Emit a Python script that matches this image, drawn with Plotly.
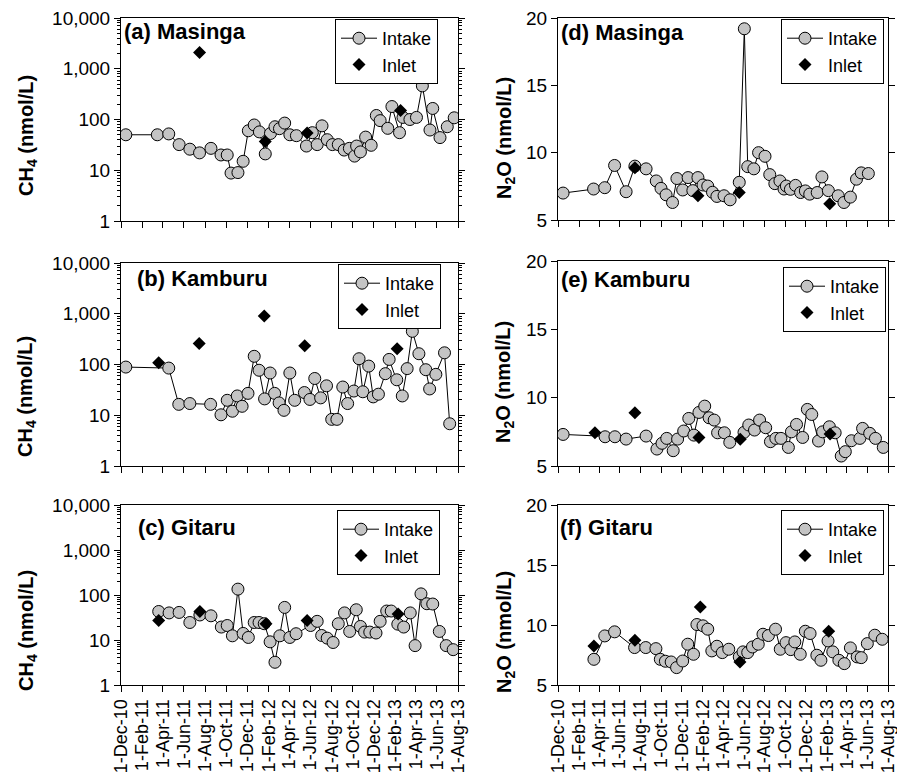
import plotly.graph_objects as go

# The page body keeps the browser's default 8 px margin, so the figure is
# made 8 px smaller and every pixel position below is given in window pixels.
OFF = 8
WIN_W, WIN_H = 905, 777
W, H = WIN_W - OFF, WIN_H - OFF
FONT = "Arial, 'Liberation Sans', sans-serif"

# ---------------- data ----------------
# (a) Masinga CH4
A_int_d = ["2010-12-15","2011-03-16","2011-04-18","2011-05-18","2011-06-18","2011-07-16","2011-08-18","2011-09-16","2011-10-04","2011-10-15","2011-11-04","2011-11-19","2011-12-04","2011-12-21","2012-01-05","2012-01-22","2012-02-06","2012-02-19","2012-03-03","2012-03-18","2012-04-02","2012-04-21","2012-05-20","2012-06-06","2012-06-20","2012-07-04","2012-07-19","2012-08-03","2012-08-20","2012-09-06","2012-09-21","2012-10-06","2012-10-12","2012-10-23","2012-11-07","2012-11-23","2012-12-08","2012-12-19","2013-01-10","2013-01-22","2013-02-13","2013-02-23","2013-03-15","2013-04-03","2013-04-20","2013-05-12","2013-05-20","2013-06-10","2013-07-01","2013-07-21"]
A_int_v = [50,50,52,32,26,22,27,20,20,8.8,9,15,60,78,57,21,53,72,66,85,50,48,30,55,32,75,40,32,32,25,27,19,30,23,45,31,120,95,67,180,55,110,100,110,460,62,165,44,72,108]
A_inl_d = ["2011-07-16","2012-01-22","2012-05-22","2013-02-16"]
A_inl_v = [2100,37,54,150]

# (b) Kamburu CH4
B_int_d = ["2010-12-15","2011-04-18","2011-05-17","2011-06-18","2011-08-17","2011-09-16","2011-10-04","2011-10-19","2011-11-02","2011-11-16","2011-12-03","2011-12-21","2012-01-04","2012-01-20","2012-02-05","2012-02-18","2012-03-02","2012-03-16","2012-04-02","2012-04-16","2012-05-14","2012-05-30","2012-06-13","2012-06-30","2012-07-17","2012-08-01","2012-08-16","2012-09-02","2012-09-16","2012-10-04","2012-10-19","2012-10-30","2012-11-16","2012-11-29","2012-12-14","2013-01-03","2013-01-14","2013-02-05","2013-02-21","2013-03-07","2013-03-22","2013-04-10","2013-04-30","2013-05-11","2013-05-29","2013-06-23","2013-07-08"]
B_int_v = [89,85,16.4,17,16.4,10.2,19.7,12,24,15,27,145,77,21,68,27,17.5,12.5,68,19.7,28,20.5,53,22,38,8.3,8.3,36,17,30,130,29,93,23,26,66,126,50,24,83,450,163,79,33,64,170,6.8]
B_inl_d = ["2011-03-20","2011-07-15","2012-01-19","2012-05-15","2013-02-06"]
B_inl_v = [108,258,905,235,205]

# (c) Gitaru CH4
C_int_d = ["2011-03-20","2011-04-19","2011-05-18","2011-06-18","2011-07-17","2011-08-18","2011-09-17","2011-10-04","2011-10-19","2011-11-04","2011-11-19","2011-12-04","2011-12-21","2012-01-04","2012-01-19","2012-02-05","2012-02-19","2012-03-04","2012-03-18","2012-04-02","2012-04-20","2012-06-01","2012-06-20","2012-07-03","2012-07-19","2012-08-05","2012-08-20","2012-09-07","2012-09-22","2012-10-11","2012-10-23","2012-11-04","2012-11-19","2012-12-07","2012-12-19","2013-01-07","2013-01-20","2013-02-08","2013-02-25","2013-03-16","2013-03-30","2013-04-16","2013-05-03","2013-05-20","2013-06-08","2013-06-28","2013-07-18"]
C_int_v = [43,40,41,24.5,36,34.5,19.4,21,12.4,135,14,11.4,24.5,24.5,23,9.1,3.2,12.4,53,11.4,13.8,21,26,12.6,11,8.8,23,40,15.5,47,20,15,15,14.3,26,44,44,22.5,19.4,40,7.5,106,64,63,15.5,7.5,6.1]
C_inl_d = ["2011-03-20","2011-07-17","2012-01-24","2012-05-22","2013-02-09"]
C_inl_v = [27,43,23,27,38]

# (d) Masinga N2O
D_int_d = ["2010-12-16","2011-03-16","2011-04-18","2011-05-17","2011-06-20","2011-07-16","2011-08-18","2011-09-17","2011-10-01","2011-10-16","2011-11-04","2011-11-17","2011-12-04","2011-12-20","2012-01-03","2012-01-18","2012-02-02","2012-02-16","2012-03-01","2012-03-14","2012-04-04","2012-04-22","2012-05-19","2012-06-03","2012-06-13","2012-07-01","2012-07-15","2012-08-03","2012-08-17","2012-09-01","2012-09-16","2012-09-28","2012-10-05","2012-10-17","2012-11-01","2012-11-16","2012-11-30","2012-12-13","2013-01-04","2013-01-18","2013-02-06","2013-03-07","2013-03-24","2013-04-12","2013-04-30","2013-05-14","2013-06-04"]
D_int_v = [7.0,7.3,7.4,9.05,7.1,9.0,8.8,7.9,7.35,6.87,6.3,8.08,7.23,8.15,7.18,8.15,7.6,7.52,7.06,6.75,6.8,6.5,7.8,19.2,8.96,8.8,10.0,9.73,8.37,7.7,7.9,7.3,7.52,7.28,7.57,7.04,7.16,6.92,7.04,8.2,7.18,6.8,6.3,6.7,8.03,8.5,8.45]
D_inl_d = ["2011-07-16","2012-01-18","2012-05-19","2013-02-10"]
D_inl_v = [8.88,6.8,7.04,6.2]

# (e) Kamburu N2O
E_int_d = ["2010-12-16","2011-04-19","2011-05-18","2011-06-20","2011-08-18","2011-09-19","2011-10-04","2011-10-18","2011-11-06","2011-11-19","2011-12-07","2011-12-22","2012-01-06","2012-01-21","2012-02-07","2012-02-20","2012-03-06","2012-03-16","2012-04-05","2012-04-21","2012-06-02","2012-06-16","2012-07-03","2012-07-18","2012-08-05","2012-08-19","2012-09-04","2012-09-19","2012-10-11","2012-10-20","2012-11-04","2012-11-22","2012-12-06","2012-12-19","2013-01-08","2013-01-20","2013-02-09","2013-02-26","2013-03-16","2013-03-28","2013-04-15","2013-05-10","2013-05-18","2013-06-08","2013-06-25","2013-07-18"]
E_int_v = [7.31,7.14,7.14,6.97,7.19,6.24,6.66,7.02,6.12,6.97,7.56,8.48,7.26,8.92,9.38,8.53,8.36,7.43,7.43,6.73,7.46,8.0,7.63,8.36,7.8,6.78,7.02,7.02,6.36,7.5,8.04,7.09,9.14,8.77,6.83,7.5,7.87,7.43,5.73,6.05,6.85,7.02,7.75,7.39,7.02,6.36]
E_inl_d = ["2011-03-20","2011-07-16","2012-01-21","2012-05-22","2013-02-11"]
E_inl_v = [7.43,8.9,7.09,6.95,7.34]

# (f) Gitaru N2O
F_int_d = ["2011-03-17","2011-04-18","2011-05-17","2011-07-15","2011-08-17","2011-09-16","2011-09-29","2011-10-14","2011-10-31","2011-11-16","2011-12-04","2011-12-19","2012-01-05","2012-01-15","2012-02-02","2012-02-16","2012-02-28","2012-03-14","2012-03-30","2012-04-18","2012-05-19","2012-05-30","2012-06-13","2012-06-27","2012-07-14","2012-07-28","2012-08-13","2012-09-03","2012-09-17","2012-10-04","2012-10-18","2012-10-30","2012-11-15","2012-11-30","2012-12-14","2013-01-03","2013-01-15","2013-02-05","2013-02-19","2013-03-09","2013-03-25","2013-04-12","2013-05-02","2013-05-14","2013-06-01","2013-06-23","2013-07-15"]
F_int_v = [7.14,9.09,9.43,8.12,8.12,8.03,7.14,6.98,6.92,6.45,7.0,8.4,7.56,10.04,9.93,9.65,7.84,8.23,7.7,7.98,7.34,7.76,7.7,8.17,8.4,9.23,9.12,9.65,7.98,8.53,7.95,8.59,7.56,9.48,9.29,7.48,7.06,8.67,7.76,7.06,6.78,8.09,7.34,7.28,8.45,9.15,8.81]
F_inl_d = ["2011-03-17","2011-07-16","2012-01-25","2012-05-21","2013-02-07"]
F_inl_v = [8.26,8.73,11.51,6.92,9.48]

LOG_TICKS = [1, 10, 100, 1000, 10000]
LOG_TEXT = ["1", "10", "100", "1,000", "10,000"]
N2O_TICKS = [5, 10, 15, 20]
X_RANGE = ["2010-12-01", "2013-08-01"]

# ---------------- layout geometry (window pixels) ----------------
panels = [
    dict(t="(a) Masinga", i=(A_int_d, A_int_v), n=(A_inl_d, A_inl_v), xp=(121, 458), yp=(18, 221),
         leg=(438, 19), tp=(122, 31), yl=(27, 136), kind="ch4", bottom=False),
    dict(t="(b) Kamburu", i=(B_int_d, B_int_v), n=(B_inl_d, B_inl_v), xp=(121, 458), yp=(263, 466),
         leg=(441, 264), tp=(135, 278), yl=(27, 397), kind="ch4", bottom=False),
    dict(t="(c) Gitaru", i=(C_int_d, C_int_v), n=(C_inl_d, C_inl_v), xp=(121, 458), yp=(505, 685),
         leg=(440, 510), tp=(136, 527), yl=(27, 631), kind="ch4", bottom=True),
    dict(t="(d) Masinga", i=(D_int_d, D_int_v), n=(D_inl_d, D_inl_v), xp=(558, 888), yp=(18, 220),
         leg=(884, 19), tp=(559, 32), yl=(505, 138), kind="n2o", bottom=False),
    dict(t="(e) Kamburu", i=(E_int_d, E_int_v), n=(E_inl_d, E_inl_v), xp=(558, 888), yp=(261, 466),
         leg=(886, 267), tp=(559, 279), yl=(505, 382), kind="n2o", bottom=False),
    dict(t="(f) Gitaru", i=(F_int_d, F_int_v), n=(F_inl_d, F_inl_v), xp=(558, 888), yp=(505, 685),
         leg=(884, 510), tp=(558, 527), yl=(505, 632), kind="n2o", bottom=True),
]

def fx(px):
    return (px - OFF) / W

def fy(py):
    return 1 - (py - OFF) / H

fig = go.Figure()
layout = dict(
    template="none",
    width=W, height=H, margin=dict(l=0, r=0, t=0, b=0, autoexpand=False),
    paper_bgcolor="white", plot_bgcolor="white",
    font=dict(family=FONT, color="black"),
    annotations=[], hovermode=False,
)

minor_log = [m * 10 ** e for e in range(0, 4) for m in range(2, 10)]

for k, p in enumerate(panels, start=1):
    sfx = "" if k == 1 else str(k)
    xa, ya = "x" + sfx, "y" + sfx
    leg = "legend" + sfx
    fig.add_trace(go.Scatter(
        x=p["i"][0], y=p["i"][1], mode="lines+markers", name="Intake",
        xaxis=xa, yaxis=ya, legend=leg,
        line=dict(color="black", width=1),
        marker=dict(symbol="circle", size=12, color="#c4c4c4", line=dict(color="black", width=1)),
    ))
    fig.add_trace(go.Scatter(
        x=p["n"][0], y=p["n"][1], mode="markers", name="Inlet",
        xaxis=xa, yaxis=ya, legend=leg,
        marker=dict(symbol="diamond", size=10, color="black", line=dict(color="black", width=0)),
    ))
    layout["xaxis" + sfx] = dict(
        domain=[fx(p["xp"][0]), fx(p["xp"][1])], anchor=ya, type="date", automargin=False,
        range=X_RANGE, tick0="2010-12-01", dtick="M2", tickformat="%-d-%b-%y",
        ticks="outside", ticklen=6, tickcolor="black", showline=True, linecolor="black",
        linewidth=1, mirror=True, showgrid=False, zeroline=False,
        showticklabels=p["bottom"], tickangle=-90, ticklabeloverflow="allow",
        tickfont=dict(family=FONT, size=18, color="black"),
    )
    ycfg = dict(
        domain=[fy(p["yp"][1]), fy(p["yp"][0])], anchor=xa, automargin=False,
        ticks="outside", ticklen=6, tickcolor="black", showline=True, linecolor="black",
        linewidth=1, mirror="ticks", showgrid=False, zeroline=False, ticklabeloverflow="allow",
    )
    if p["kind"] == "ch4":
        ycfg.update(type="log", range=[0, 4], tickmode="array", tickvals=LOG_TICKS, ticktext=LOG_TEXT,
                    tickfont=dict(family=FONT, size=19, color="black"),
                    minor=dict(ticks="outside", ticklen=3, tickcolor="black", tickvals=minor_log, showgrid=False))
        ytitle = "<b>CH<sub>4</sub> (nmol/L)</b>"
    else:
        ycfg.update(range=[5, 20], tickmode="array", tickvals=N2O_TICKS,
                    tickfont=dict(family=FONT, size=19, color="black"))
        ytitle = "<b>N<sub>2</sub>O (nmol/L)</b>"
    layout["yaxis" + sfx] = ycfg
    layout[leg] = dict(
        x=fx(p["leg"][0]), y=fy(p["leg"][1]), xanchor="right", yanchor="top",
        bgcolor="white", bordercolor="black", borderwidth=1,
        font=dict(family=FONT, size=18, color="black"),
        tracegroupgap=0, itemwidth=36,
    )
    layout["annotations"].append(dict(
        text="<b>" + p["t"] + "</b>", x=fx(p["tp"][0]), y=fy(p["tp"][1]), xref="paper", yref="paper",
        xanchor="left", yanchor="middle", showarrow=False,
        font=dict(family=FONT, size=22, color="black"),
    ))
    layout["annotations"].append(dict(
        text=ytitle, x=fx(p["yl"][0]), y=fy(p["yl"][1]), xref="paper", yref="paper",
        xanchor="center", yanchor="middle", showarrow=False, textangle=-90,
        font=dict(family=FONT, size=20, color="black"),
    ))

fig.update_layout(**layout)
fig.write_html("out.html")
